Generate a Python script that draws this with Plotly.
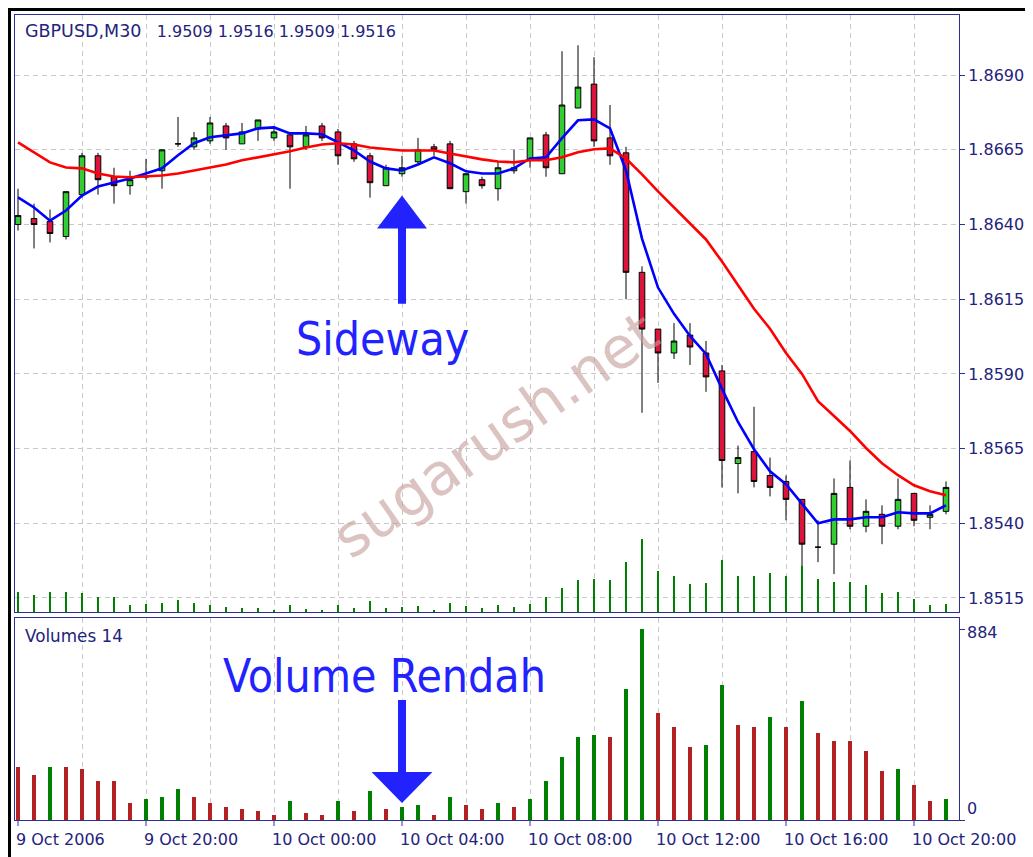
import plotly.graph_objects as go

# ---------------- data ----------------
opens = [1.8640, 1.8642, 1.8641, 1.8636, 1.8650, 1.8663, 1.8656, 1.8653, 1.8656, 1.8658,
         1.8667, 1.8666, 1.8668, 1.8673, 1.8667, 1.8672, 1.8669, 1.8670, 1.8666, 1.8673,
         1.8671, 1.8667, 1.8663, 1.8653, 1.8657, 1.8661, 1.8666, 1.8667, 1.8651, 1.8655,
         1.8652, 1.8658, 1.8662, 1.8670, 1.8657, 1.8679, 1.8687, 1.8669, 1.8664, 1.8624,
         1.8605, 1.8597, 1.8603, 1.8597, 1.8591, 1.8560, 1.8564, 1.8556, 1.8554, 1.8548,
         1.8532, 1.8533, 1.8552, 1.8539, 1.8543, 1.8539, 1.8550, 1.8542, 1.8544]
highs = [1.8652, 1.8647, 1.8645, 1.8651, 1.8664, 1.8664, 1.8659, 1.8658, 1.8662, 1.8665,
         1.8676, 1.8671, 1.8676, 1.8674, 1.8674, 1.8675, 1.8673, 1.8671, 1.8673, 1.8674,
         1.8672, 1.8668, 1.8664, 1.8660, 1.8663, 1.8669, 1.8667, 1.8668, 1.8657, 1.8656,
         1.8661, 1.8665, 1.8669, 1.8671, 1.8698, 1.8700, 1.8696, 1.8680, 1.8666, 1.8626,
         1.8605, 1.8607, 1.8607, 1.8601, 1.8593, 1.8566, 1.8579, 1.8562, 1.8556, 1.8548,
         1.8541, 1.8555, 1.8561, 1.8548, 1.8546, 1.8555, 1.8550, 1.8546, 1.8554]
lows = [1.8638, 1.8632, 1.8634, 1.8635, 1.8649, 1.8650, 1.8647, 1.8650, 1.8655, 1.8652,
        1.8666, 1.8665, 1.8667, 1.8665, 1.8667, 1.8668, 1.8668, 1.8652, 1.8665, 1.8668,
        1.8660, 1.8661, 1.8649, 1.8653, 1.8656, 1.8660, 1.8663, 1.8652, 1.8647, 1.8652,
        1.8648, 1.8657, 1.8659, 1.8656, 1.8657, 1.8679, 1.8666, 1.8660, 1.8615, 1.8577,
        1.8587, 1.8595, 1.8593, 1.8584, 1.8552, 1.8550, 1.8552, 1.8549, 1.8541, 1.8525,
        1.8527, 1.8523, 1.8538, 1.8537, 1.8533, 1.8538, 1.8539, 1.8538, 1.8543]
closes = [1.8643, 1.8640, 1.8637, 1.8651, 1.8663, 1.8655, 1.8653, 1.8655, 1.8656, 1.8665,
          1.8667, 1.8669, 1.8674, 1.8669, 1.8671, 1.8675, 1.8671, 1.8666, 1.8670, 1.8669,
          1.8663, 1.8662, 1.8654, 1.8659, 1.8659, 1.8665, 1.8665, 1.8652, 1.8657, 1.8653,
          1.8659, 1.8659, 1.8669, 1.8659, 1.8680, 1.8686, 1.8668, 1.8663, 1.8624, 1.8605,
          1.8597, 1.8601, 1.8599, 1.8589, 1.8561, 1.8562, 1.8554, 1.8552, 1.8548, 1.8533,
          1.8532, 1.8550, 1.8539, 1.8544, 1.8539, 1.8548, 1.8541, 1.8543, 1.8552]
ma_fast = [1.86491, 1.86457, 1.86413, 1.86447, 1.86497, 1.86527, 1.86541, 1.86554, 1.86571, 1.86588,
           1.86632, 1.86672, 1.86692, 1.86699, 1.86705, 1.86722, 1.86725, 1.86705, 1.86705, 1.86702,
           1.86675, 1.86648, 1.86611, 1.86588, 1.86581, 1.86601, 1.86625, 1.86605, 1.86578, 1.86571,
           1.86571, 1.86588, 1.86621, 1.86625, 1.86689, 1.86749, 1.86752, 1.86722, 1.86581, 1.86353,
           1.86189, 1.86101, 1.86027, 1.85967, 1.85850, 1.85739, 1.85648, 1.85574, 1.85531, 1.85467,
           1.85400, 1.85413, 1.85413, 1.85420, 1.85420, 1.85437, 1.85433, 1.85433, 1.85460]
ma_slow = [1.86675, 1.86642, 1.86608, 1.86591, 1.86588, 1.86571, 1.86561, 1.86558, 1.86561, 1.86564,
           1.86571, 1.86581, 1.86591, 1.86601, 1.86615, 1.86625, 1.86635, 1.86645, 1.86658, 1.86668,
           1.86672, 1.86668, 1.86658, 1.86652, 1.86648, 1.86648, 1.86648, 1.86638, 1.86628, 1.86618,
           1.86611, 1.86608, 1.86615, 1.86615, 1.86625, 1.86642, 1.86652, 1.86655, 1.86621, 1.86568,
           1.86511, 1.86457, 1.86403, 1.86350, 1.86276, 1.86195, 1.86118, 1.86051, 1.85970, 1.85900,
           1.85809, 1.85759, 1.85709, 1.85652, 1.85601, 1.85561, 1.85527, 1.85507, 1.85494]
volumes = [247, 210, 247, 247, 236, 182, 182, 80, 99, 108,
           145, 108, 80, 62, 52, 43, 25, 89, 34, 25,
           89, 43, 136, 52, 62, 71, 25, 108, 71, 52,
           80, 62, 99, 182, 290, 386, 395, 386, 608, 884,
           497, 432, 339, 349, 626, 441, 432, 478, 432, 552,
           404, 367, 367, 321, 228, 237, 163, 89, 99]
time_tick_bars = [0, 8, 16, 24, 32, 40, 48, 56]
time_tick_labels = ["9 Oct 2006", "9 Oct 20:00", "10 Oct 00:00", "10 Oct 04:00",
                    "10 Oct 08:00", "10 Oct 12:00", "10 Oct 16:00", "10 Oct 20:00"]
grid_bars = [4, 8, 12, 16, 20, 24, 28, 32, 36, 40, 44, 48, 52, 56]
price_ticks = [1.8515, 1.8540, 1.8565, 1.8590, 1.8615, 1.8640, 1.8665, 1.8690]
title_symbol = "GBPUSD,M30"
title_quotes = "1.9509 1.9516 1.9509 1.9516"

# ---------------- styling ----------------
PAGE_OFF = 8                      # default body margin of the page
W, H = 1033 - PAGE_OFF, 857 - PAGE_OFF
L, T = 15 - PAGE_OFF, 15 - PAGE_OFF
R = W - (959 - PAGE_OFF)
B = H - (820 - PAGE_OFF)
PW, PH = W - L - R, H - T - B
NAVY = "#23237d"
FRAME = "#2e2e96"
GRID = "#c8c8c8"
ARROW = "#2222ff"
FONT = "DejaVu Sans"
FS = 16

def py(ypix):          # page pixel -> paper
    return (820 - ypix) / PH

def px(xpix):
    return (xpix - 15) / PW

x = list(range(len(opens)))
vol_colors = ["#b22222"] + ["#008000" if volumes[i] > volumes[i - 1] else "#b22222"
                            for i in range(1, len(volumes))]

fig = go.Figure()
fig.add_trace(go.Bar(x=x, y=volumes, xaxis="x", yaxis="y3", width=0.13,
                     marker=dict(color="#008000", line=dict(width=0)), showlegend=False))
fig.add_trace(go.Candlestick(x=x, open=opens, high=highs, low=lows, close=closes,
                             xaxis="x", yaxis="y", whiskerwidth=0,
                             increasing=dict(fillcolor="#32cd32", line=dict(color="black", width=1)),
                             decreasing=dict(fillcolor="#dc143c", line=dict(color="black", width=1)),
                             showlegend=False))
fig.add_trace(go.Scatter(x=x, y=ma_fast, mode="lines", xaxis="x", yaxis="y",
                         line=dict(color="#0000ff", width=2.6), showlegend=False))
fig.add_trace(go.Scatter(x=x, y=ma_slow, mode="lines", xaxis="x", yaxis="y",
                         line=dict(color="#ff0000", width=2.6), showlegend=False))
fig.add_trace(go.Bar(x=x, y=volumes, xaxis="x2", yaxis="y2", width=0.28,
                     marker=dict(color=vol_colors, line=dict(width=0)), showlegend=False))

xr = [-0.1875, len(opens) - 1 + 0.8125]
price_top_px, price_bot_px = 15, 612
vol_top_px, vol_bot_px = 618, 820
p_per_px = 0.0025 / 74.5
price_range = [1.8515 - (price_bot_px - 598) * p_per_px, 1.8690 + (75 - price_top_px) * p_per_px]
vol_max = max(volumes)
vol_range = [0, vol_max * (vol_bot_px - vol_top_px) / (vol_bot_px - 629)]
mini_range = [0, vol_max * (price_bot_px - price_top_px) / 73.0]

axis_common = dict(showline=True, linecolor=FRAME, linewidth=1, mirror=True, zeroline=False)
fig.update_layout(
    width=W, height=H, autosize=False,
    margin=dict(l=L, r=R, t=T, b=B, pad=0),
    paper_bgcolor="white", plot_bgcolor="white",
    boxgap=0.5, bargap=0, showlegend=False,
    xaxis=dict(domain=[0, 1], anchor="y", range=xr, tickvals=grid_bars, ticks="",
               showticklabels=False, showgrid=True, gridcolor=GRID, griddash="5px,4px",
               gridwidth=1, rangeslider=dict(visible=False), **axis_common),
    yaxis=dict(domain=[py(price_bot_px), py(price_top_px)], anchor="x", range=price_range,
               side="right", tickvals=price_ticks, tickformat=".4f", ticks="outside",
               ticklen=5, tickcolor=FRAME, tickfont=dict(family=FONT, size=FS, color=NAVY),
               showgrid=True, gridcolor=GRID, griddash="5px,4px", gridwidth=1, **axis_common),
    yaxis3=dict(overlaying="y", range=mini_range, visible=False),
    xaxis2=dict(domain=[0, 1], anchor="y2", matches="x", range=xr, tickvals=grid_bars,
                ticks="", showticklabels=False, showgrid=True, gridcolor=GRID,
                griddash="5px,4px", gridwidth=1, **axis_common),
    yaxis2=dict(domain=[0, py(vol_top_px)], anchor="x2", range=vol_range, side="right",
                tickvals=[0, vol_max], ticks="outside", ticklen=5, tickcolor=FRAME,
                showticklabels=False, showgrid=False, **axis_common),
)

ann = []
ann.append(dict(xref="paper", yref="paper", x=px(23), y=py(31), xanchor="left", yanchor="middle",
                text=f"<span style='font-size:17.5px'>{title_symbol}</span>\u00a0\u00a0\u00a0{title_quotes}",
                showarrow=False, font=dict(family=FONT, size=FS, color=NAVY)))
ann.append(dict(xref="paper", yref="paper", x=px(23), y=py(636), xanchor="left", yanchor="middle",
                text="Volumes 14", showarrow=False, font=dict(family=FONT, size=16.8, color=NAVY)))
ann.append(dict(xref="paper", yref="paper", x=px(965), y=py(632), xanchor="left", yanchor="middle",
                text=str(vol_max), showarrow=False, font=dict(family=FONT, size=FS, color=NAVY)))
ann.append(dict(xref="paper", yref="paper", x=px(965), y=py(808), xanchor="left", yanchor="middle",
                text="0", showarrow=False, font=dict(family=FONT, size=FS, color=NAVY)))
for b, t in zip(time_tick_bars, time_tick_labels):
    ann.append(dict(xref="x2", yref="paper", x=b, y=py(839), xanchor="left", yanchor="middle",
                    xshift=-4, text=t, showarrow=False, font=dict(family=FONT, size=FS, color=NAVY)))
# annotation texts
ann.append(dict(xref="x", yref="y", x=22.8, y=1.86017, xanchor="center", yanchor="middle",
                text="Sideway", showarrow=False,
                font=dict(family="DejaVu Sans Condensed, DejaVu Sans", size=46, color=ARROW)))
ann.append(dict(xref="x2", yref="y2", x=22.9, y=666, xanchor="center", yanchor="middle",
                text="Volume Rendah", showarrow=False,
                font=dict(family="DejaVu Sans Condensed, DejaVu Sans", size=46, color=ARROW)))
# watermark
ann.append(dict(xref="paper", yref="paper", x=px(495), y=py(435), xanchor="center", yanchor="middle",
                text="sugarush.net", showarrow=False, textangle=-35,
                font=dict(family=FONT, size=58, color="rgba(195,155,152,0.6)")))
fig.update_layout(annotations=ann)

# arrows (decorations) and time-axis tick marks
shapes = []
def arrow_path(xc, tail, base, tip, half_head, half_shaft):
    return (f"M {xc - half_shaft},{tail} L {xc - half_shaft},{base} L {xc - half_head},{base} "
            f"L {xc},{tip} L {xc + half_head},{base} L {xc + half_shaft},{base} "
            f"L {xc + half_shaft},{tail} Z")

shapes.append(dict(type="path", xref="x", yref="y",
                   path=arrow_path(24, 1.86135, 1.86387, 1.86497, 1.56, 0.25),
                   fillcolor=ARROW, line=dict(width=0)))
shapes.append(dict(type="path", xref="x2", yref="y2",
                   path=arrow_path(24, 555, 222, 79, 1.9, 0.25),
                   fillcolor=ARROW, line=dict(width=0)))
for b in time_tick_bars:
    shapes.append(dict(type="line", xref="x2", yref="paper", x0=b, x1=b, y0=0, y1=py(826),
                       line=dict(color=FRAME, width=1)))
# outer black frame of the screenshot (top, left, right)
shapes.append(dict(type="path", xref="paper", yref="paper",
                   path=f"M {px(9.5)},{py(860)} L {px(9.5)},{py(9.5)} L {px(1030.5)},{py(9.5)} "
                        f"L {px(1030.5)},{py(860)}",
                   line=dict(color="black", width=3)))
fig.update_layout(shapes=shapes)

fig.write_html("out.html")
